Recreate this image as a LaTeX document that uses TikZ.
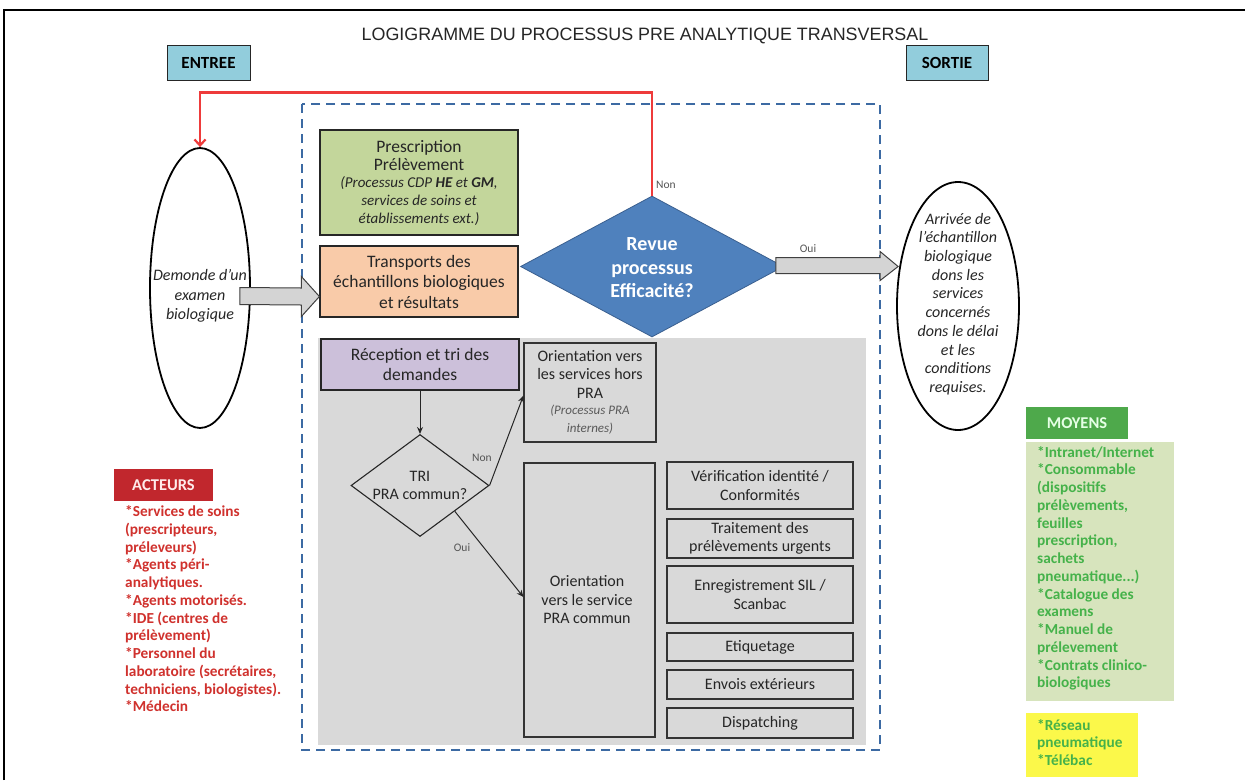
\documentclass[tikz,border=0pt]{standalone}
\usepackage{fontspec}
\setmainfont{Carlito}
\newfontfamily\titlefont{Liberation Sans}
\usetikzlibrary{shapes.geometric,arrows.meta,calc}
\definecolor{dashblue}{HTML}{3C6AA3}
\definecolor{boxgreen}{HTML}{C3D69B}
\definecolor{boxorange}{HTML}{F9CBA9}
\definecolor{boxpurple}{HTML}{CCC0DA}
\definecolor{diamblue}{HTML}{4F81BD}
\definecolor{diamborder}{HTML}{3A5F8F}
\definecolor{ioblue}{HTML}{92CDDC}
\definecolor{zonegray}{HTML}{D9D9D9}
\definecolor{arrowgray}{HTML}{D4D4D4}
\definecolor{actred}{HTML}{C1272D}
\definecolor{acttext}{HTML}{D0312D}
\definecolor{moygreen}{HTML}{4EA94B}
\definecolor{moybg}{HTML}{D7E4BD}
\definecolor{moytext}{HTML}{45B24A}
\definecolor{yel}{HTML}{FBF84A}
\definecolor{redline}{HTML}{EE3B3B}
\definecolor{lbl}{HTML}{555555}
\newcommand\prbig{\fontsize{17.5}{20}\selectfont}
\newcommand\prit{\itshape\fontsize{15}{18}\selectfont}
\newcommand\hsit{\itshape\fontsize{13}{16}\selectfont\color{black!65}}
\tikzset{
  procbox/.style={draw=black!85, line width=1.2pt, align=center, inner sep=0pt, text=black!85},
  subbox/.style={draw=black!80, line width=1.1pt, align=center, inner sep=0pt, text=black!85,
    font=\fontsize{16}{18.5}\selectfont},
  iobox/.style={draw=black!85, line width=1pt, fill=ioblue, font=\bfseries\fontsize{17}{18}\selectfont, inner sep=0pt},
  oval/.style={ellipse, draw=black, line width=1.8pt, inner sep=0pt},
  ovaltext/.style={align=center, inner sep=0pt, font=\itshape\fontsize{16}{18.7}\selectfont, text=black!85},
  blockarrow/.style={draw=black!75, line width=1pt, fill=arrowgray},
  flow/.style={draw=black!85, line width=1pt, -{Stealth[length=7pt,width=6pt]}},
  smalllbl/.style={font=\fontsize{11.5}{12}\selectfont, text=lbl, inner sep=1pt},
  listtext/.style={align=left, anchor=north west, inner sep=0pt, font=\bfseries\fontsize{15.3}{17.75}\selectfont}
}
\begin{document}
\begin{tikzpicture}[x=1pt,y=-1pt]
\useasboundingbox (0,0) rectangle (1245,780);
\fill[white] (0,0) rectangle (1245,780);
% frame
\draw[black, line width=2pt] (3.5,780) -- (3.5,9.5) -- (1245,9.5);

% title
\node[font=\titlefont\fontsize{17.9}{20}\selectfont, text=black!85] (title) at (645,36) {LOGIGRAMME DU PROCESSUS PRE ANALYTIQUE TRANSVERSAL};
\node[iobox, minimum width=83pt, minimum height=35pt] (entree) at (208.5,62.5) {ENTREE};
\node[iobox, minimum width=82pt, minimum height=35pt] (sortie) at (947,62.5) {SORTIE};

% gray zone and dashed frame
\fill[zonegray] (318,338) rectangle (866,745);
\draw[dashblue, line width=2pt, dash pattern=on 9pt off 6pt] (302,104) rectangle (880,750);

% ellipses
\node[oval, minimum width=100pt, minimum height=280pt] (elL) at (200,288) {};
\node[ovaltext, font=\itshape\fontsize{16}{19.5}\selectfont] (elLtxt) at (200,296) {Demonde d'un\\examen\\biologique};
\node[oval, minimum width=122pt, minimum height=248pt] (elR) at (958,306) {};
\node[ovaltext] (elRtxt) at (958,304) {Arrivée de\\l'échantillon\\biologique\\dons les\\services\\concernés\\dons le délai\\et les\\conditions\\requises.};

% top boxes
\node[procbox, fill=boxgreen, minimum width=198pt, minimum height=105pt, font=\fontsize{15}{18}\selectfont] (presc) at (419,182.5)
  {\prbig Prescription\\\prbig Prélèvement\\[-1pt]\prit (Processus CDP \textbf{HE} et \textbf{GM},\\\prit services de soins et\\\prit établissements ext.)};
\node[procbox, fill=boxorange, minimum width=198pt, minimum height=71pt, font=\fontsize{17.5}{20.5}\selectfont] (trans) at (419,281.5)
  {Transports des\\échantillons biologiques\\et résultats};

% main diamond
\node[diamond, fill=diamblue, draw=diamborder, line width=0.8pt, minimum width=263pt, minimum height=141pt,
  inner sep=0pt] (rev) at (652,266.5) {};
\node[align=center, inner sep=0pt, text=white, font=\bfseries\fontsize{20}{23.5}\selectfont] (revtxt) at (652,268)
  {Revue\\processus\\Efficacité?};

% red loop
\coordinate (rtop) at (652,92.5);
\draw[redline, line width=2.2pt, -{Straight Barb[length=6pt,width=11pt]}]
  (rev.north) -- (rev.north |- rtop) -| (elL.north);
\node[smalllbl, anchor=west] (nonR) at (655,185) {Non};

% block arrows
\draw[blockarrow] ($(elL.east)+(-11,-0.5)$) -- ($(trans.west)+(-18,6.5)$) -- ($(trans.west)+(-18,-5)$)
  -- ($(trans.west)+(0,15)$) -- ($(trans.west)+(-18,35)$) -- ($(trans.west)+(-18,23.5)$) -- ($(elL.east)+(-11,16.5)$) -- cycle;
\coordinate (rtip) at ($(elR.west |- rev.east)+(2,0)$);
\draw[blockarrow] ($(rev.east)+(-8,-9)$) -- ($(rtip)+(-18,-9)$) -- ($(rtip)+(-18,-15)$) -- (rtip)
  -- ($(rtip)+(-18,14)$) -- ($(rtip)+(-18,7)$) -- ($(rev.east)+(-8,7)$) -- cycle;
\node[smalllbl] (ouiR) at (808,249) {Oui};

% reception area
\node[procbox, fill=boxpurple, minimum width=198pt, minimum height=51pt, font=\fontsize{17.5}{20}\selectfont] (recep) at (420,364.5)
  {Réception et tri des\\demandes};
\node[subbox, minimum width=132pt, minimum height=99pt] (hors) at (590,392.5)
  {Orientation vers\\les services hors\\PRA\\[-2.5pt]\hsit (Processus PRA\\\hsit internes)};
\node[diamond, draw=black!85, line width=1.1pt, minimum width=138pt, minimum height=102pt, inner sep=0pt] (tri) at (420,485.5) {};
\node[align=center, inner sep=0pt, text=black!85, font=\fontsize{16}{18}\selectfont] (tritxt) at (420,485.5) {TRI\\PRA commun?};
\node[subbox, minimum width=131pt, minimum height=274pt] (commun) at (589.5,600) {};
\node[align=center, text=black!85, font=\fontsize{16}{18.5}\selectfont, inner sep=0pt] (communtxt) at (587,600)
  {Orientation\\vers le service\\PRA commun};

\draw[flow] (recep.south) -- (tri.north);
\coordinate (nonend) at ($(hors.west)+(0,3)$);
\draw[flow] (tri.east) -- (nonend);
\node[smalllbl] (nonT) at (482,458) {Non};
\coordinate (ouistart) at ($(tri.east)!0.5!(tri.south)$);
\coordinate (ouiend) at ($(commun.west)+(0,-3)$);
\draw[flow] (ouistart) -- (ouiend);
\node[smalllbl] (ouiT) at (462,548) {Oui};

% right column
\node[subbox, minimum width=186pt, minimum height=47pt] (b1) at (760,485.5) {Vérification identité /\\Conformités};
\node[subbox, minimum width=186pt, minimum height=39pt] (b2) at (760,538.5) {Traitement des\\prélèvements urgents};
\node[subbox, minimum width=186pt, minimum height=57pt] (b3) at (760,594.5) {Enregistrement SIL /\\Scanbac};
\node[subbox, minimum width=186pt, minimum height=28pt] (b4) at (760,647) {Etiquetage};
\node[subbox, minimum width=186pt, minimum height=29pt] (b5) at (760,684.5) {Envois extérieurs};
\node[subbox, minimum width=186pt, minimum height=30pt] (b6) at (760,723) {Dispatching};

% acteurs
\node[fill=actred, minimum width=99pt, minimum height=32pt, inner sep=0pt, text=white!92!red,
  font=\bfseries\fontsize{16.5}{17}\selectfont] (acteurs) at (163.5,485) {ACTEURS};
\node[listtext, text=acttext] (acttxt) at (125,505.5)
  {*Services de soins\\(prescripteurs,\\préleveurs)\\*Agents péri-\\analytiques.\\*Agents motorisés.\\*IDE (centres de\\prélèvement)\\*Personnel du\\laboratoire (secrétaires,\\techniciens, biologistes).\\*Médecin};

% moyens
\node[fill=moygreen, minimum width=102pt, minimum height=32pt, inner sep=0pt, text=white!90!green,
  font=\bfseries\fontsize{16.5}{17}\selectfont] (moyens) at (1077,423) {MOYENS};
\fill[moybg] (1026,442) rectangle (1174,701);
\node[listtext, text=moytext] (moytxt) at (1037,446)
  {*Intranet/Internet\\*Consommable\\(dispositifs\\prélèvements,\\feuilles\\prescription,\\sachets\\pneumatique...)\\*Catalogue des\\examens\\*Manuel de\\prélevement\\*Contrats clinico-\\biologiques};
\fill[yel] (1026,713) rectangle (1138,777);
\node[listtext, text=moytext] (yeltxt) at (1037,719)
  {*Réseau\\pneumatique\\*Télébac};
\end{tikzpicture}
\end{document}
